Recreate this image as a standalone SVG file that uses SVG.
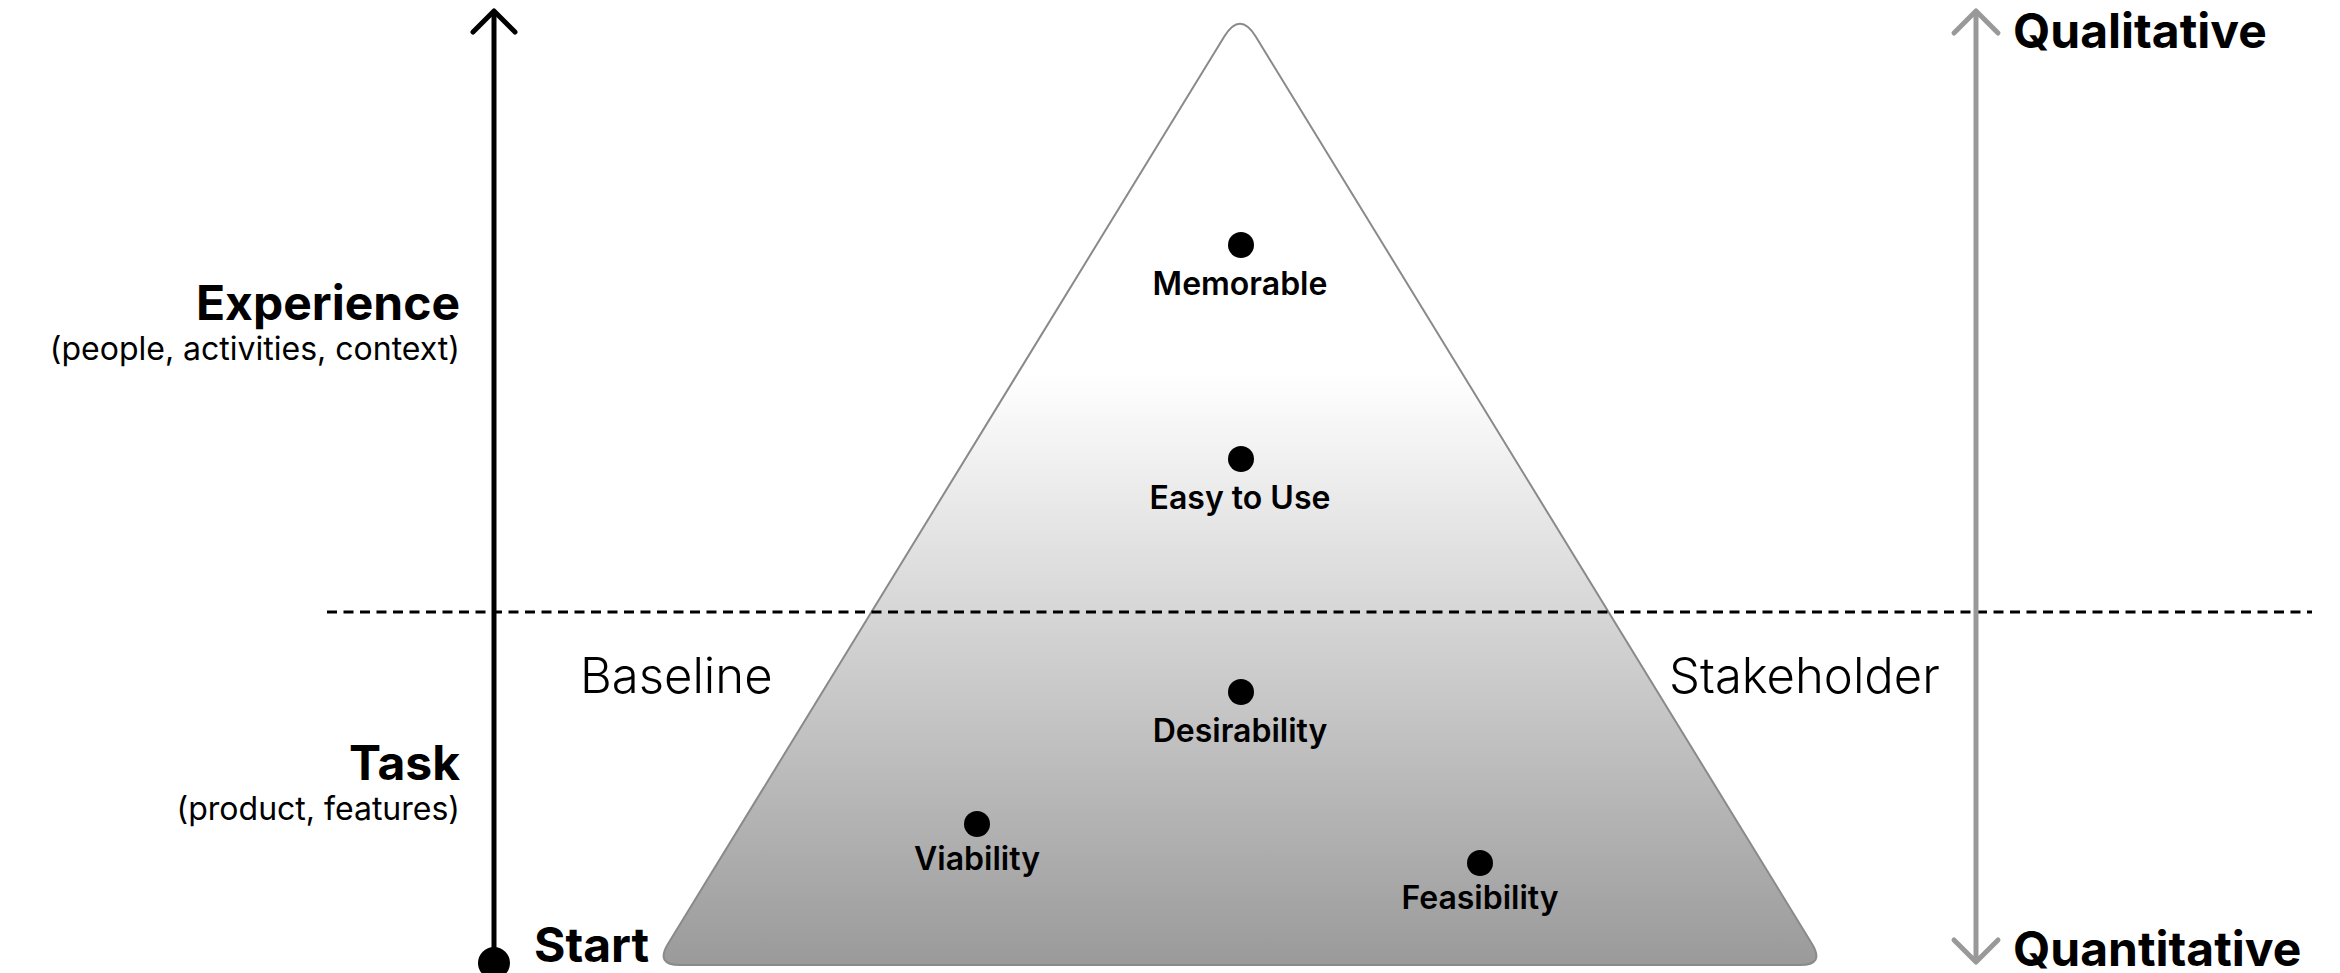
<svg xmlns="http://www.w3.org/2000/svg" width="2340" height="973" viewBox="0 0 2340 973">
<style>
text{font-family:Inter,"Noto Sans","Liberation Sans",sans-serif;fill:#000}
.h{font-size:48px;font-weight:700}
.sub{font-size:32px;font-weight:400}
.lbl{font-size:32px;font-weight:600;text-anchor:middle}
.side{font-size:49px;font-weight:300}
.dot{fill:#000}
</style>
<defs>
<linearGradient id="pg" gradientUnits="userSpaceOnUse" x1="0" y1="11" x2="0" y2="965">
<stop offset="0" stop-color="#fff"/>
<stop offset="0.38" stop-color="#fff"/>
<stop offset="1" stop-color="#9a9a9a"/>
</linearGradient>
</defs>
<rect width="2340" height="973" fill="#fff"/>
<g id="pyramid">
<path d="M1224.3 36.5 Q1240 11 1255.7 36.5 L1811.9 943.7 Q1825 965 1800 965 L680 965 Q655 965 668.1 943.7 Z" fill="url(#pg)" stroke="#8a8a8a" stroke-width="2"/>
</g>
<g id="connectors" fill="none" stroke-linecap="round" stroke-linejoin="round">
<line x1="327" y1="612" x2="2312" y2="612" stroke="#000" stroke-width="3" stroke-dasharray="10 6.5" stroke-linecap="butt"/>
<line x1="494" y1="12" x2="494" y2="960" stroke="#000" stroke-width="5"/>
<polyline points="473,32 494,11 515,32" stroke="#000" stroke-width="5"/>
<line x1="1976" y1="12" x2="1976" y2="960" stroke="#999" stroke-width="5"/>
<polyline points="1954,33 1976,11 1998,33" stroke="#999" stroke-width="5"/>
<polyline points="1954,940 1976,962 1998,940" stroke="#999" stroke-width="5"/>
</g>
<g id="start">
<circle cx="494" cy="963" r="16" class="dot"/>
<text x="534" y="962" class="h">Start</text>
</g>
<g id="experience">
<text x="460" y="320" class="h" text-anchor="end">Experience</text>
<text x="460" y="360" class="sub" text-anchor="end">(people, activities, context)</text>
</g>
<g id="task">
<text x="460" y="780" class="h" text-anchor="end">Task</text>
<text x="460" y="820" class="sub" text-anchor="end">(product, features)</text>
</g>
<g id="qualitative"><text x="2013" y="48" class="h">Qualitative</text></g>
<g id="quantitative"><text x="2013" y="966" class="h">Quantitative</text></g>
<g id="baseline"><text x="580" y="693" class="side">Baseline</text></g>
<g id="stakeholder"><text x="1669" y="693" class="side">Stakeholder</text></g>
<g id="memorable"><circle cx="1241" cy="245" r="13" class="dot"/><text x="1240" y="295" class="lbl">Memorable</text></g>
<g id="easy"><circle cx="1241" cy="459" r="13" class="dot"/><text x="1240" y="509" class="lbl">Easy to Use</text></g>
<g id="desirability"><circle cx="1241" cy="692" r="13" class="dot"/><text x="1240" y="742" class="lbl">Desirability</text></g>
<g id="viability"><circle cx="977" cy="824" r="13" class="dot"/><text x="977" y="870" class="lbl">Viability</text></g>
<g id="feasibility"><circle cx="1480" cy="863" r="13" class="dot"/><text x="1480" y="909" class="lbl">Feasibility</text></g>
</svg>
